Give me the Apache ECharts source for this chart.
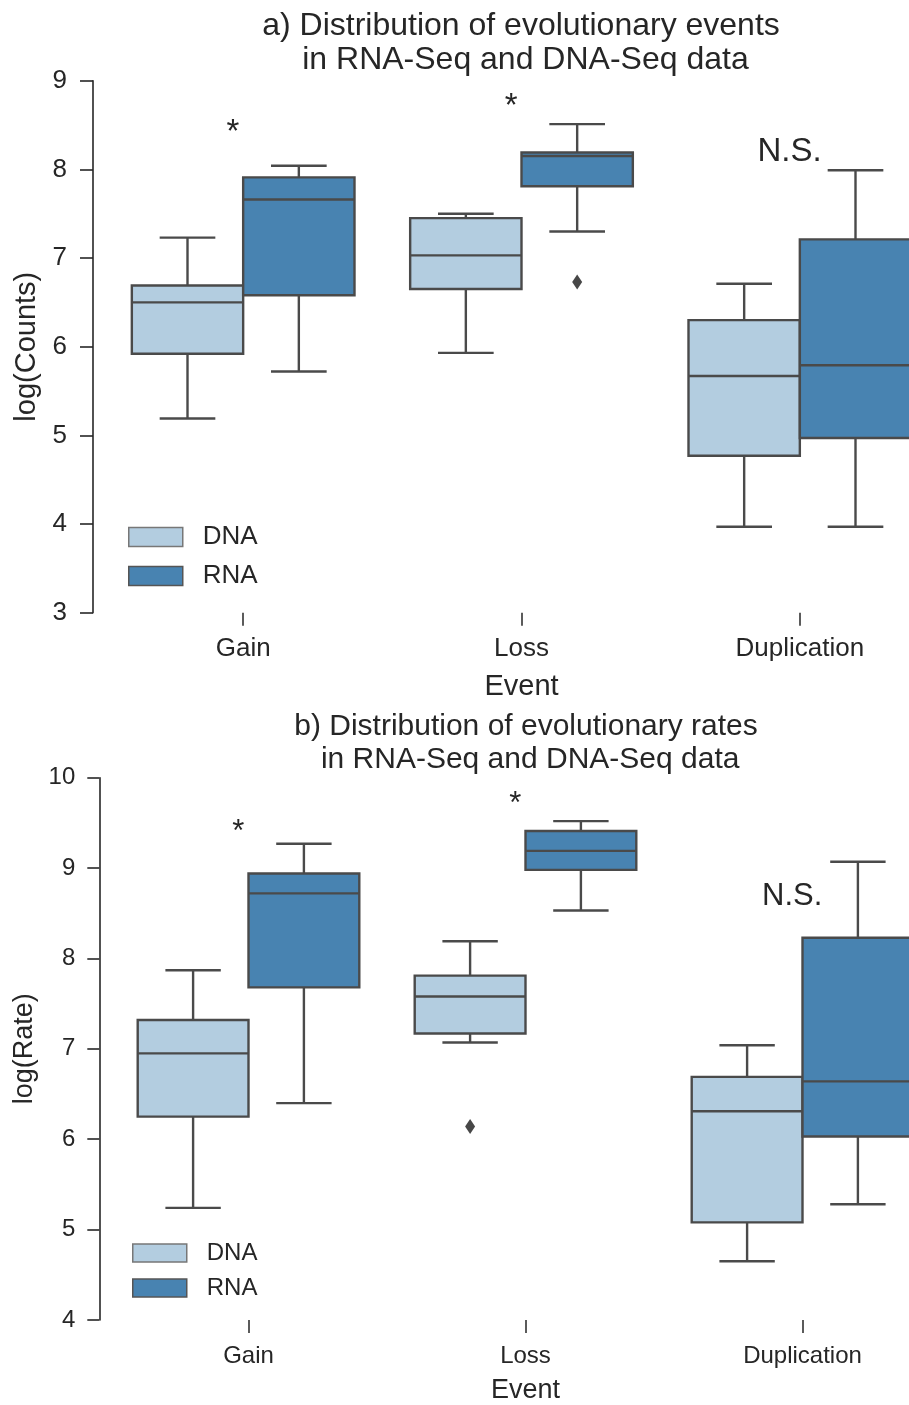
<!DOCTYPE html>
<html>
<head>
<meta charset="utf-8">
<title>Evolutionary events and rates</title>
<script src="https://cdn.jsdelivr.net/npm/echarts@6/dist/echarts.min.js"></script>
<style>
  html, body { margin: 0; padding: 0; background: #ffffff; overflow: hidden; }
  /* the plotting area runs past the right edge of the page, so the canvas is wider than the window */
  #chart { width: 960px; height: 1405px; }
</style>
</head>
<body>
<div id="chart"></div>
<script>
// Event categories on the x axis
const categories = ['Gain', 'Loss', 'Duplication'];

// Box statistics per category: [lower whisker, Q1, median, Q3, upper whisker]
// a) log(Counts)
const countsDNA = [
  [5.19, 5.92, 6.50, 6.69, 7.23],
  [5.93, 6.65, 7.03, 7.45, 7.50],
  [3.97, 4.77, 5.67, 6.30, 6.71]
];
const countsRNA = [
  [5.72, 6.58, 7.66, 7.91, 8.04],
  [7.30, 7.81, 8.15, 8.19, 8.51],
  [3.97, 4.97, 5.79, 7.21, 7.99]
];
// Outliers: [category index, value]
const countsOutliersDNA = [];
const countsOutliersRNA = [[1, 6.73]];

// b) log(Rate)
const rateDNA = [
  [5.24, 6.25, 6.95, 7.32, 7.87],
  [7.07, 7.17, 7.58, 7.81, 8.19],
  [4.65, 5.08, 6.31, 6.69, 7.04]
];
const rateRNA = [
  [6.40, 7.68, 8.72, 8.94, 9.27],
  [8.53, 8.98, 9.19, 9.41, 9.52],
  [5.28, 6.03, 6.64, 8.23, 9.07]
];
const rateOutliersDNA = [[1, 6.14]];
const rateOutliersRNA = [];

// Significance annotations: [category index, height]
const annotationText = ['*', '*', 'N.S.'];
const countsAnnotationY = [8.41, 8.71, 8.20];
const rateAnnotationY = [9.39, 9.70, 8.69];

const FONT = "'Liberation Sans', Arial, Helvetica, sans-serif";
const TEXT = '#262626';
const EDGE = '#4a4a4a';
const COLOR_DNA = '#b3cde0';
const COLOR_RNA = '#4883b1';
const LINE_W = 2.4;

function boxData(stats) {
  return stats.map((s, i) => [i].concat(s));
}

// Box with half-width caps, drawn on one side of the category centre
function makeBoxRenderer(side, fill) {
  return function (params, api) {
    const cat = api.value(0);
    const band = api.size([1, 0])[0];
    const bw = band * 0.4;
    const cx = api.coord([cat, 0])[0];
    const x0 = side < 0 ? cx - bw : cx;
    const mid = x0 + bw / 2;
    const y = (k) => api.coord([cat, api.value(k)])[1];
    const yLow = y(1), yQ1 = y(2), yMed = y(3), yQ3 = y(4), yHigh = y(5);
    const line = { stroke: EDGE, lineWidth: LINE_W };
    const capHalf = bw / 4;
    return {
      type: 'group',
      children: [
        { type: 'line', shape: { x1: mid, y1: yQ3, x2: mid, y2: yHigh }, style: line },
        { type: 'line', shape: { x1: mid, y1: yQ1, x2: mid, y2: yLow }, style: line },
        { type: 'line', shape: { x1: mid - capHalf, y1: yHigh, x2: mid + capHalf, y2: yHigh }, style: line },
        { type: 'line', shape: { x1: mid - capHalf, y1: yLow, x2: mid + capHalf, y2: yLow }, style: line },
        { type: 'rect', shape: { x: x0, y: yQ3, width: bw, height: yQ1 - yQ3 },
          style: { fill: fill, stroke: EDGE, lineWidth: LINE_W } },
        { type: 'line', shape: { x1: x0, y1: yMed, x2: x0 + bw, y2: yMed }, style: line }
      ]
    };
  };
}

function makeOutlierRenderer(side) {
  return function (params, api) {
    const cat = api.value(0);
    const band = api.size([1, 0])[0];
    const bw = band * 0.4;
    const p = api.coord([cat, api.value(1)]);
    const mid = side < 0 ? p[0] - bw / 2 : p[0] + bw / 2;
    const yy = p[1];
    return {
      type: 'polygon',
      shape: { points: [[mid, yy - 7.5], [mid + 5, yy], [mid, yy + 7.5], [mid - 5, yy]] },
      style: { fill: '#474747' }
    };
  };
}

function makeAnnotationRenderer(fontSize) {
  return function (params, api) {
    const band = api.size([1, 0])[0];
    const p = api.coord([api.value(0), api.value(1)]);
    return {
      type: 'text',
      x: p[0] - band * 0.037,
      y: p[1],
      style: {
        text: annotationText[params.dataIndex],
        fill: TEXT,
        font: fontSize + 'px ' + FONT,
        align: 'center',
        verticalAlign: 'middle'
      }
    };
  };
}

function annotationData(ys) {
  return ys.map((v, i) => [i, v]);
}

function legendFor(top, left, fontSize, h, gap) {
  return {
    orient: 'vertical',
    left: left,
    top: top,
    padding: 0,
    itemWidth: 54,
    itemHeight: h,
    itemGap: gap,
    selectedMode: false,
    textStyle: { fontSize: fontSize, color: TEXT, fontFamily: FONT, padding: [0, 0, 0, 15] },
    data: [
      { name: 'DNA', icon: 'rect', itemStyle: { color: COLOR_DNA, borderColor: '#777777', borderWidth: 1.5 } },
      { name: 'RNA', icon: 'rect', itemStyle: { color: COLOR_RNA, borderColor: '#555555', borderWidth: 1.5 } }
    ]
  };
}

function xAxisFor(gridIndex, fontSize, margin, nameGap, nameSize) {
  return {
    type: 'category',
    gridIndex: gridIndex,
    data: categories,
    name: 'Event',
    nameLocation: 'middle',
    nameGap: nameGap,
    nameTextStyle: { fontSize: nameSize, color: TEXT, fontFamily: FONT },
    axisLine: { show: true, lineStyle: { color: 'rgba(0,0,0,0)', width: 0 } },
    axisTick: { show: true, alignWithLabel: true, length: 13, lineStyle: { color: TEXT, width: 1.5 } },
    axisLabel: { fontSize: fontSize, color: TEXT, fontFamily: FONT, margin: margin },
    splitLine: { show: false }
  };
}

function yAxisFor(gridIndex, name, min, max, offset, fontSize, margin, nameGap, nameSize, tickLen) {
  return {
    type: 'value',
    gridIndex: gridIndex,
    min: min,
    max: max,
    interval: 1,
    offset: offset,
    name: name,
    nameLocation: 'middle',
    nameGap: nameGap,
    nameTextStyle: { fontSize: nameSize, color: TEXT, fontFamily: FONT },
    axisLine: { show: true, lineStyle: { color: TEXT, width: 1.6 } },
    axisTick: { show: true, length: tickLen, lineStyle: { color: TEXT, width: 1.6 } },
    axisLabel: { fontSize: fontSize, color: TEXT, fontFamily: FONT, margin: margin },
    splitLine: { show: false }
  };
}

function panelSeries(gridIdx, dna, rna, outDNA, outRNA, annY, annSize) {
  return [
    { name: 'DNA', type: 'custom', xAxisIndex: gridIdx, yAxisIndex: gridIdx,
      renderItem: makeBoxRenderer(-1, COLOR_DNA), data: boxData(dna),
      itemStyle: { color: COLOR_DNA }, encode: { x: 0, y: [1, 2, 3, 4, 5] }, silent: true },
    { name: 'RNA', type: 'custom', xAxisIndex: gridIdx, yAxisIndex: gridIdx,
      renderItem: makeBoxRenderer(1, COLOR_RNA), data: boxData(rna),
      itemStyle: { color: COLOR_RNA }, encode: { x: 0, y: [1, 2, 3, 4, 5] }, silent: true },
    { type: 'custom', xAxisIndex: gridIdx, yAxisIndex: gridIdx,
      renderItem: makeOutlierRenderer(-1), data: outDNA, encode: { x: 0, y: 1 }, silent: true },
    { type: 'custom', xAxisIndex: gridIdx, yAxisIndex: gridIdx,
      renderItem: makeOutlierRenderer(1), data: outRNA, encode: { x: 0, y: 1 }, silent: true },
    { type: 'custom', xAxisIndex: gridIdx, yAxisIndex: gridIdx,
      renderItem: makeAnnotationRenderer(annSize), data: annotationData(annY),
      encode: { x: 0, y: 1 }, silent: true }
  ];
}

const chart = echarts.init(document.getElementById('chart'), null, { renderer: 'canvas' });

chart.setOption({
  backgroundColor: '#ffffff',
  animation: false,
  title: [
    {
      text: 'a) Distribution of evolutionary events\n in RNA-Seq and DNA-Seq data',
      left: 521, top: 9, textAlign: 'center', padding: 0,
      textStyle: { fontSize: 32, lineHeight: 34, fontWeight: 'normal', color: TEXT, fontFamily: FONT }
    },
    {
      text: 'b) Distribution of evolutionary rates\n in RNA-Seq and DNA-Seq data',
      left: 526, top: 710, textAlign: 'center', padding: 0,
      textStyle: { fontSize: 30, lineHeight: 33, fontWeight: 'normal', color: TEXT, fontFamily: FONT }
    }
  ],
  legend: [
    legendFor(524, 128, 26, 19, 13),
    legendFor(1241, 132, 24, 18, 11)
  ],
  grid: [
    { left: 104, width: 835, top: 80.7, height: 532 },
    { left: 110, width: 831, top: 777.7, height: 546.3 }
  ],
  xAxis: [
    xAxisFor(0, 26, 23, 60, 29),
    xAxisFor(1, 24, 24, 57, 27)
  ],
  yAxis: [
    yAxisFor(0, 'log(Counts)', 3, 9, 11, 26, 26, 51, 29, 13),
    yAxisFor(1, 'log(Rate)', 4, 10, 10.7, 24, 24, 52, 27, 12)
  ],
  series: [].concat(
    panelSeries(0, countsDNA, countsRNA, countsOutliersDNA, countsOutliersRNA, countsAnnotationY, 33),
    panelSeries(1, rateDNA, rateRNA, rateOutliersDNA, rateOutliersRNA, rateAnnotationY, 31)
  )
});
</script>
</body>
</html>
